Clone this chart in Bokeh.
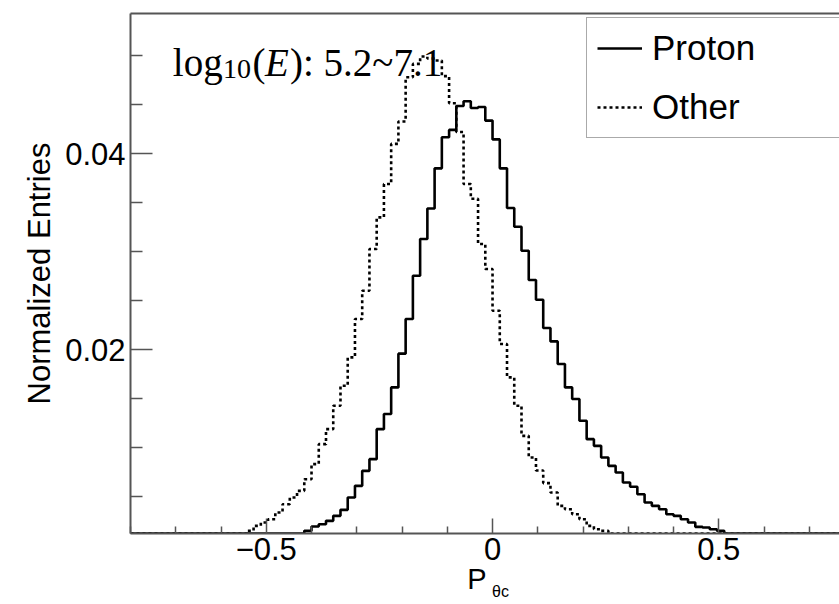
import numpy as np
from bokeh.plotting import figure
from bokeh.models import Range1d, FixedTicker, LinearAxis, Label
from bokeh.embed import file_html
from bokeh.resources import INLINE

# ---------------- data (100 bins from -0.8 to 0.8) ----------------
n_bins = 100
x_lo, x_hi = -0.8, 0.8

proton = [
    0, 0, 0, 0, 0, 0, 0, 0, 0, 0,
    0, 0, 0, 0, 0, 0, 0, 0, 0, 0,
    0.0004, 0.0006, 0.0008, 0.0011, 0.00153, 0.00197, 0.00221, 0.00255, 0.00306, 0.00367,
    0.00493, 0.00612, 0.00765, 0.00884, 0.01190, 0.01344, 0.01616, 0.01960, 0.02313, 0.02755,
    0.03129, 0.03440, 0.03850, 0.04167, 0.04242, 0.04485, 0.04534, 0.04465, 0.04476, 0.04337,
    0.04145, 0.03850, 0.03445, 0.03255, 0.03010, 0.02711, 0.02510, 0.02222, 0.02085, 0.01854,
    0.01616, 0.01497, 0.01276, 0.01088, 0.01020, 0.00901, 0.00816, 0.00748, 0.00646, 0.00602,
    0.00527, 0.00442, 0.00408, 0.00374, 0.00323, 0.00306, 0.00272, 0.00238, 0.00194, 0.00187,
    0.00170, 0.00153, 0.0011, 0.0009, 0.0007, 0.0005, 0.0004, 0.0003, 0, 0,
    0, 0, 0, 0, 0, 0, 0, 0, 0, 0,
]

other = [
    0, 0, 0, 0, 0, 0, 0, 0, 0, 0,
    0, 0, 0.0003, 0.0005, 0.0008, 0.0011, 0.00153, 0.00204, 0.00238, 0.00272,
    0.00340, 0.00425, 0.00493, 0.00561, 0.00680, 0.00833, 0.01037, 0.01190, 0.01429, 0.01633,
    0.01922, 0.02313, 0.02602, 0.03027, 0.03350, 0.03690, 0.04099, 0.04328, 0.04779, 0.04915,
    0.04990, 0.04970, 0.04950, 0.04790, 0.04514, 0.04220, 0.03690, 0.03540, 0.03078, 0.02823,
    0.02398, 0.02058, 0.01718, 0.01429, 0.01122, 0.00901, 0.00768, 0.00640, 0.00544, 0.00408,
    0.00374, 0.00323, 0.00272, 0.00204, 0.00170, 0.00153, 0.0011, 0.0008, 0.0006, 0.0004,
    0.0003, 0, 0, 0, 0, 0, 0, 0, 0, 0,
    0, 0, 0, 0, 0, 0, 0, 0, 0, 0,
    0, 0, 0, 0, 0, 0, 0, 0, 0, 0,
]

series_names = ["Proton", "Other"]

x_ticks = [-0.5, 0.0, 0.5]
x_tick_labels = ["\u22120.5", "0", "0.5"]
x_minor_ticks = [-0.8, -0.7, -0.6, -0.4, -0.3, -0.2, -0.1, 0.1, 0.2, 0.3, 0.4, 0.6, 0.7, 0.8]
y_ticks = [0.02, 0.04]
y_tick_labels = ["0.02", "0.04"]
y_minor_ticks = [0.005, 0.01, 0.015, 0.025, 0.03, 0.035, 0.045, 0.05]

# ---------------- figure ----------------
X_MIN, X_MAX = -0.8, 0.7667
Y_MIN, Y_MAX = 0.00126, 0.05429

p = figure(width=839, height=604,
           x_range=Range1d(X_MIN, X_MAX), y_range=Range1d(Y_MIN, Y_MAX),
           output_backend="svg", toolbar_location=None,
           min_border_left=130, min_border_right=0,
           min_border_top=13, min_border_bottom=71)
p.outline_line_color = None
p.grid.visible = False
p.background_fill_color = "white"
p.border_fill_color = "white"

edges = np.linspace(x_lo, x_hi, n_bins + 1)


def step_y(vals):
    v = np.maximum(np.asarray(vals, dtype=float), Y_MIN)  # ROOT draws at frame minimum
    return np.append(v, v[-1])


p.step(x=edges, y=step_y(other), mode="after", line_color="black",
       line_width=2.6, line_dash="3 3", legend_label=series_names[1])
p.step(x=edges, y=step_y(proton), mode="after", line_color="black",
       line_width=2.6, legend_label=series_names[0])

AXIS_COL = "#555555"
FONT = "Liberation Sans"

# x axis
xa = p.xaxis[0]
xa.ticker = FixedTicker(ticks=x_ticks, minor_ticks=x_minor_ticks)
xa.major_label_overrides = dict(zip(x_ticks, x_tick_labels))
xa.axis_line_color = AXIS_COL
xa.axis_line_width = 2
xa.major_tick_line_color = AXIS_COL
xa.minor_tick_line_color = AXIS_COL
xa.major_tick_line_width = 1.5
xa.minor_tick_line_width = 1.5
xa.major_tick_in = 15
xa.major_tick_out = 0
xa.minor_tick_in = 7
xa.minor_tick_out = 0
xa.major_label_text_font = FONT
xa.major_label_text_font_size = "31px"
xa.major_label_text_color = "black"
xa.major_label_standoff = 4
xa.axis_label = "P\u00a0\u00a0"
xa.axis_label_text_font = FONT
xa.axis_label_text_font_size = "29px"
xa.axis_label_text_font_style = "normal"
xa.axis_label_text_color = "black"
xa.axis_label_standoff = 0

# subscript of the x title, as a second (bare) axis label below
xsub = LinearAxis(ticker=FixedTicker(ticks=[], minor_ticks=[]),
                  axis_line_color=None,
                  major_tick_in=0, major_tick_out=0, minor_tick_in=0, minor_tick_out=0,
                  major_label_text_font_size="0px", major_label_standoff=0,
                  axis_label="\u00a0" * 7 + "\u03b8c",
                  axis_label_text_font=FONT, axis_label_text_font_size="16px",
                  axis_label_text_font_style="normal", axis_label_text_color="black",
                  axis_label_standoff=-15)
p.add_layout(xsub, "below")

# y axis
ya = p.yaxis[0]
ya.ticker = FixedTicker(ticks=y_ticks, minor_ticks=y_minor_ticks)
ya.major_label_overrides = dict(zip(y_ticks, y_tick_labels))
ya.axis_line_color = AXIS_COL
ya.axis_line_width = 2
ya.major_tick_line_color = AXIS_COL
ya.minor_tick_line_color = AXIS_COL
ya.major_tick_line_width = 1.5
ya.minor_tick_line_width = 1.5
ya.major_tick_in = 22
ya.major_tick_out = 0
ya.minor_tick_in = 12
ya.minor_tick_out = 0
ya.major_label_text_font = FONT
ya.major_label_text_font_size = "31px"
ya.major_label_text_color = "black"
ya.major_label_standoff = 5
ya.axis_label = "Normalized Entries"
ya.axis_label_text_font = FONT
ya.axis_label_text_font_size = "31px"
ya.axis_label_text_font_style = "normal"
ya.axis_label_text_color = "black"
ya.axis_label_standoff = 5

# top frame line
top = LinearAxis(ticker=FixedTicker(ticks=[], minor_ticks=[]),
                 axis_line_color=AXIS_COL, axis_line_width=2,
                 major_tick_in=0, major_tick_out=0, minor_tick_in=0, minor_tick_out=0,
                 major_label_text_font_size="0px", major_label_standoff=0)
p.add_layout(top, "above")


def px_x(px):
    return (px - 491.7) / 453.0


def px_y(py):
    return (545.0 - py) / 9800.0


# energy range annotation: log10(E): 5.2~7.1
SERIF = "Liberation Serif"
ann = [
    ("log", 171.7, 61.7, "39px", "normal"),
    ("10", 222.0, 68.5, "28px", "normal"),
    ("(", 251.5, 61.7, "39px", "normal"),
    ("E", 264.0, 61.7, "39px", "italic"),
    ("): 5.2~7.1", 289.0, 61.7, "39px", "normal"),
]
for txt, ax_, ay_, fs, st in ann:
    p.add_layout(Label(x=px_x(ax_), y=px_y(ay_), text=txt, text_font=SERIF,
                       text_font_size=fs, text_font_style=st, text_color="black",
                       text_baseline="alphabetic", text_align="left"))

# legend
lg = p.legend[0]
lg.items = [lg.items[1], lg.items[0]]
lg.location = (456, 395)
lg.margin = 0
lg.padding = 10
lg.spacing = 19
lg.glyph_width = 45
lg.glyph_height = 40
lg.label_height = 40
lg.label_width = 260
lg.label_standoff = 10
lg.label_text_font = FONT
lg.label_text_font_size = "35px"
lg.label_text_color = "black"
lg.border_line_color = "#555555"
lg.border_line_width = 1.5
lg.background_fill_color = "white"
lg.background_fill_alpha = 1.0

open("out.html", "w").write(file_html(p, INLINE))
